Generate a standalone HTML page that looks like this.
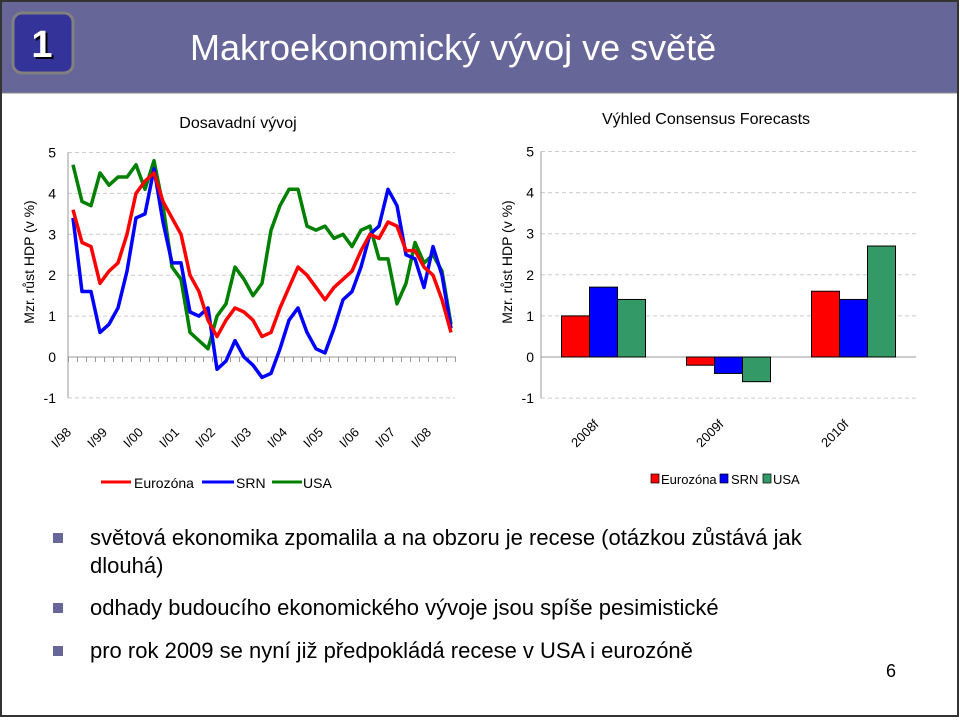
<!DOCTYPE html>
<html><head><meta charset="utf-8"><style>
body{margin:0;width:960px;height:718px;overflow:hidden;background:#fff;font-family:"Liberation Sans",sans-serif}
svg text{font-family:"Liberation Sans",sans-serif}
</style></head><body>
<svg id="s" width="960" height="718">
<rect x="1" y="1" width="957" height="715" fill="#fff" stroke="#333" stroke-width="2"/>
<rect x="2" y="2" width="955" height="91" fill="#666699"/>
<line x1="2" y1="93" x2="957" y2="93" stroke="#888"/>
<rect x="13" y="13" width="60" height="60" rx="9" fill="#333399" stroke="#808080" stroke-width="3"/>
<text x="44" y="59" font-size="38" font-weight="bold" fill="#000" text-anchor="middle">1</text>
<text x="42" y="57" font-size="38" font-weight="bold" fill="#fff" text-anchor="middle">1</text>
<text x="190" y="60" font-size="36" fill="#fff">Makroekonomický vývoj ve světě</text>

<text x="238" y="128" font-size="16" text-anchor="middle">Dosavadní vývoj</text>
<text x="706" y="124" font-size="16" text-anchor="middle">Výhled Consensus Forecasts</text>
<text transform="translate(34,262) rotate(-90)" font-size="14" text-anchor="middle">Mzr. růst HDP (v %)</text>
<text transform="translate(512,262) rotate(-90)" font-size="14" text-anchor="middle">Mzr. růst HDP (v %)</text>
<g id="left"></g><g id="right"></g>

<g>
<line x1="101" y1="482" x2="131" y2="482" stroke="#f00" stroke-width="3"/><text x="134" y="488" font-size="14">Eurozóna</text>
<line x1="202" y1="482" x2="234" y2="482" stroke="#00f" stroke-width="3"/><text x="236" y="488" font-size="14">SRN</text>
<line x1="272" y1="482" x2="302" y2="482" stroke="#008000" stroke-width="3"/><text x="303" y="488" font-size="14">USA</text>
</g>
<g>
<rect x="651" y="474" width="8" height="9" fill="#f00" stroke="#000" stroke-width="0.7"/><text x="661" y="484" font-size="13">Eurozóna</text>
<rect x="720" y="474" width="8" height="9" fill="#00f" stroke="#000" stroke-width="0.7"/><text x="731" y="484" font-size="13">SRN</text>
<rect x="763" y="474" width="8" height="9" fill="#339966" stroke="#000" stroke-width="0.7"/><text x="773" y="484" font-size="13">USA</text>
</g>

<g font-size="22" fill="#000">
<rect x="53" y="533" width="10" height="10" fill="#666699"/>
<text x="90" y="545">světová ekonomika zpomalila a na obzoru je recese (otázkou zůstává jak</text>
<text x="90" y="573">dlouhá)</text>
<rect x="53" y="603" width="10" height="10" fill="#666699"/>
<text x="90" y="615">odhady budoucího ekonomického vývoje jsou spíše pesimistické</text>
<rect x="53" y="646" width="10" height="10" fill="#666699"/>
<text x="90" y="658">pro rok 2009 se nyní již předpokládá recese v USA i eurozóně</text>
</g>
<text x="886" y="677" font-size="18">6</text>
</svg>
<script>
const yTicks=[5,4,3,2,1,0,-1];
const yearLabels=["I/98","I/99","I/00","I/01","I/02","I/03","I/04","I/05","I/06","I/07","I/08"];
const euro=[3.6,2.8,2.7,1.8,2.1,2.3,3.0,4.0,4.3,4.5,3.8,3.4,3.0,2.0,1.6,0.9,0.5,0.9,1.2,1.1,0.9,0.5,0.6,1.2,1.7,2.2,2.0,1.7,1.4,1.7,1.9,2.1,2.6,3.0,2.9,3.3,3.2,2.6,2.6,2.2,2.0,1.4,0.6];
const srn=[3.4,1.6,1.6,0.6,0.8,1.2,2.1,3.4,3.5,4.6,3.3,2.3,2.3,1.1,1.0,1.2,-0.3,-0.1,0.4,0.0,-0.2,-0.5,-0.4,0.2,0.9,1.2,0.6,0.2,0.1,0.7,1.4,1.6,2.2,3.0,3.2,4.1,3.7,2.5,2.4,1.7,2.7,2.0,0.7];
const usa=[4.7,3.8,3.7,4.5,4.2,4.4,4.4,4.7,4.1,4.8,3.7,2.2,1.9,0.6,0.4,0.2,1.0,1.3,2.2,1.9,1.5,1.8,3.1,3.7,4.1,4.1,3.2,3.1,3.2,2.9,3.0,2.7,3.1,3.2,2.4,2.4,1.3,1.8,2.8,2.3,2.5,2.1,0.8];
const barCats=["2008f","2009f","2010f"];
const barEuro=[1.0,-0.2,1.6];
const barSrn=[1.7,-0.4,1.4];
const barUsa=[1.4,-0.6,2.7];

const NS="http://www.w3.org/2000/svg";
function mk(p,t,a){const e=document.createElementNS(NS,t);for(const k in a)e.setAttribute(k,a[k]);p.appendChild(e);return e;}
const yL=v=>357-v*40.9;
const xL=i=>73+i*9;
const L=document.getElementById('left');
yTicks.forEach(v=>{
 if(v!==0){const g=mk(L,'line',{x1:68,x2:455,y1:yL(v),y2:yL(v),stroke:'#ccc','stroke-dasharray':'4,3'});
 
 }
 const t=mk(L,'text',{x:56,y:yL(v)+5,'font-size':14,'text-anchor':'end'});t.textContent=v;
 
 
});
const ax=mk(L,'line',{x1:68,x2:68,y1:yL(5),y2:yL(-1),stroke:'#999'});


const xa=mk(L,'line',{x1:68,x2:456,y1:yL(0),y2:yL(0),stroke:'#999'});


for(let i=0;i<=euro.length;i++){const t=mk(L,'line',{x1:xL(i)-4.5,x2:xL(i)-4.5,y1:yL(0),y2:yL(0)+5,stroke:'#999'});
 
 }
yearLabels.forEach((s,k)=>{const x=xL(k*4)-1,y=433;
 const t=mk(L,'text',{x:x,y:y,'font-size':13,'text-anchor':'end',transform:`rotate(-45 ${x} ${y})`});t.textContent=s;
 
 });
[[usa,'#008000','line-usa'],[srn,'#0000ff','line-srn'],[euro,'#ff0000','line-eurozona']].forEach(([d,c,n])=>{
 const p=mk(L,'polyline',{points:d.map((v,i)=>xL(i)+','+yL(v)).join(' '),fill:'none',stroke:c,'stroke-width':3.5,'stroke-linejoin':'round'});
 
 });

const R=document.getElementById('right');
const yR=v=>357-v*41.1;
const x0=541,cw=125,bw=28;
yTicks.forEach(v=>{
 if(v!==0){const g=mk(R,'line',{x1:541,x2:916,y1:yR(v),y2:yR(v),stroke:'#ccc','stroke-dasharray':'4,3'});
 
 }
 const t=mk(R,'text',{x:534,y:yR(v)+5,'font-size':14,'text-anchor':'end'});t.textContent=v;
 
 
});
const ra=mk(R,'line',{x1:541,x2:541,y1:yR(5),y2:yR(-1),stroke:'#999'});


const rx=mk(R,'line',{x1:541,x2:916,y1:yR(0),y2:yR(0),stroke:'#999'});


barCats.forEach((c,k)=>{
 const cx=x0+cw*k+cw/2;
 [[barEuro,'#ff0000','bar-eurozona'],[barSrn,'#0000ff','bar-srn'],[barUsa,'#339966','bar-usa']].forEach(([d,col,n],j)=>{
  const v=d[k],y=Math.min(yR(v),yR(0)),h=Math.abs(yR(v)-yR(0));
  const b=mk(R,'rect',{x:cx-42+j*bw,y:y,width:bw,height:h,fill:col,stroke:'#000','stroke-width':1});
  
  
 });
 const x=cx-4,y=425;
 const t=mk(R,'text',{x:x,y:y,'font-size':13,'text-anchor':'end',transform:`rotate(-45 ${x} ${y})`});t.textContent=c;
 
 
});
</script>
</body></html>
